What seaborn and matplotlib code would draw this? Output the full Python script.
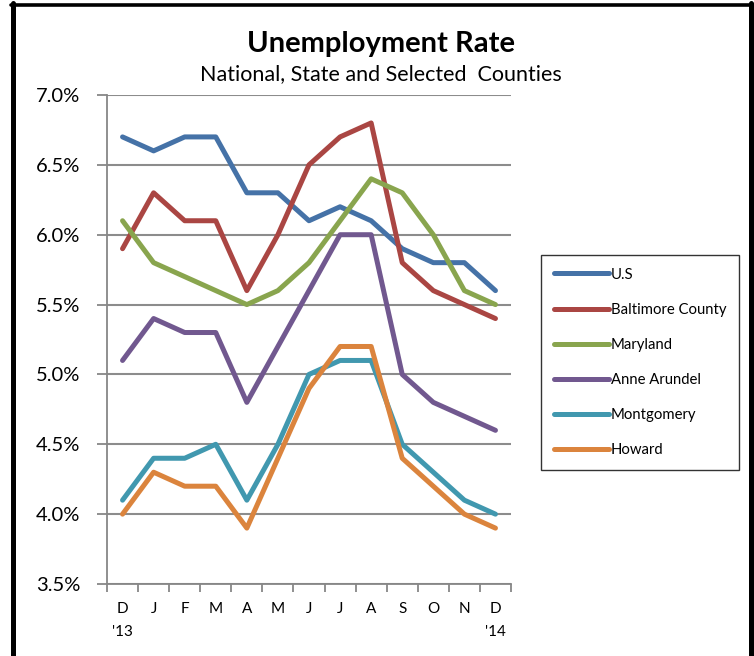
import matplotlib
matplotlib.use("Agg")
import matplotlib.pyplot as plt
import seaborn as sns
import pandas as pd
from matplotlib.lines import Line2D

months = ["D", "J", "F", "M", "A", "M", "J", "J", "A", "S", "O", "N", "D"]
us = [6.7, 6.6, 6.7, 6.7, 6.3, 6.3, 6.1, 6.2, 6.1, 5.9, 5.8, 5.8, 5.6]
baltimore = [5.9, 6.3, 6.1, 6.1, 5.6, 6.0, 6.5, 6.7, 6.8, 5.8, 5.6, 5.5, 5.4]
maryland = [6.1, 5.8, 5.7, 5.6, 5.5, 5.6, 5.8, 6.1, 6.4, 6.3, 6.0, 5.6, 5.5]
anne_arundel = [5.1, 5.4, 5.3, 5.3, 4.8, 5.2, 5.6, 6.0, 6.0, 5.0, 4.8, 4.7, 4.6]
montgomery = [4.1, 4.4, 4.4, 4.5, 4.1, 4.5, 5.0, 5.1, 5.1, 4.5, 4.3, 4.1, 4.0]
howard = [4.0, 4.3, 4.2, 4.2, 3.9, 4.4, 4.9, 5.2, 5.2, 4.4, 4.2, 4.0, 3.9]
series_names = ["U.S", "Baltimore County", "Maryland", "Anne Arundel", "Montgomery", "Howard"]
colors = ["#4572A7", "#AA4643", "#89A54E", "#71588F", "#4198AF", "#DB843D"]
y_ticks = [3.5, 4.0, 4.5, 5.0, 5.5, 6.0, 6.5, 7.0]
year_labels = ["'13", "'14"]

all_series = [us, baltimore, maryland, anne_arundel, montgomery, howard]
rows = []
for name, vals in zip(series_names, all_series):
    for i, v in enumerate(vals):
        rows.append({"idx": i, "value": v, "series": name})
df = pd.DataFrame(rows)

sns.set_theme(style="white")
plt.rcParams["font.family"] = ["Lato", "DejaVu Sans"]
plt.rcParams["text.color"] = "black"
plt.rcParams["xtick.color"] = "black"
plt.rcParams["ytick.color"] = "black"

fig = plt.figure(figsize=(7.54, 6.56), dpi=100)
ax = fig.add_axes([107 / 754, 1 - 584 / 656, (511 - 107) / 754, (584 - 95) / 656])

sns.lineplot(data=df, x="idx", y="value", hue="series", hue_order=series_names,
             palette=colors, linewidth=3.6, ax=ax, legend=False, sort=False)
for ln in ax.lines:
    ln.set_solid_capstyle("round")

ax.set_xlim(-0.5, len(months) - 0.5)
ax.set_ylim(3.5, 7.0)
ax.set_yticks(y_ticks)
ax.set_yticklabels([f"{t:.1f}%" for t in y_ticks], fontsize=14.5, color="#000000")
ax.set_xticks([i - 0.5 for i in range(len(months) + 1)])
ax.set_xticklabels([])
ax.set_xticks(range(len(months)), minor=True)
ax.set_xticklabels(months, minor=True, fontsize=11, color="#000000")
ax.tick_params(axis="x", which="minor", length=0, pad=13)
ax.tick_params(axis="x", which="major", length=6, width=1.3, color="#878787", direction="out", bottom=True)
ax.tick_params(axis="y", length=7, width=1.3, color="#878787", direction="out", left=True, pad=12)
ax.set_xlabel("")
ax.set_ylabel("")
ax.grid(axis="y", color="#8C8C8C", linewidth=1.5)
ax.set_axisbelow(True)
for s in ["top", "right"]:
    ax.spines[s].set_visible(False)
ax.spines["left"].set_color("#878787")
ax.spines["left"].set_linewidth(1.3)
ax.spines["bottom"].set_color("#878787")
ax.spines["bottom"].set_linewidth(1.3)

ax.text(0, -48 / 489, year_labels[0], transform=ax.get_xaxis_transform(), ha="center", va="center", fontsize=11)
ax.text(len(months) - 1, -48 / 489, year_labels[1], transform=ax.get_xaxis_transform(), ha="center", va="center", fontsize=11)

fig.text(381 / 754, 1 - 44 / 656, "Unemployment Rate", ha="center", va="center",
         fontsize=21, fontweight="bold")
fig.text(381 / 754, 1 - 74 / 656, "National, State and Selected  Counties", ha="center",
         va="center", fontsize=15.5)

handles = [Line2D([0], [0], color=c, linewidth=3.6, solid_capstyle="round") for c in colors]
leg = fig.legend(handles, series_names, loc="upper left",
                 bbox_to_anchor=(541 / 754, 1 - 255 / 656), frameon=True, fancybox=False,
                 fontsize=10.7, handlelength=3.7, handletextpad=0.15, labelspacing=1.42,
                 borderpad=0.85, borderaxespad=0)
leg.get_frame().set_edgecolor("#000000")
leg.get_frame().set_linewidth(1.0)

# outer frame lines
fig.add_artist(Line2D([12.5 / 754, 12.5 / 754], [0, 1 - 3 / 656], color="black", linewidth=3.6, transform=fig.transFigure))
fig.add_artist(Line2D([750.5 / 754, 750.5 / 754], [0, 1 - 3 / 656], color="black", linewidth=3.6, transform=fig.transFigure))
fig.add_artist(Line2D([10.5 / 754, 752.5 / 754], [1 - 4.5 / 656, 1 - 4.5 / 656], color="black", linewidth=2.6, transform=fig.transFigure))

fig.savefig("out.png", dpi=100)
